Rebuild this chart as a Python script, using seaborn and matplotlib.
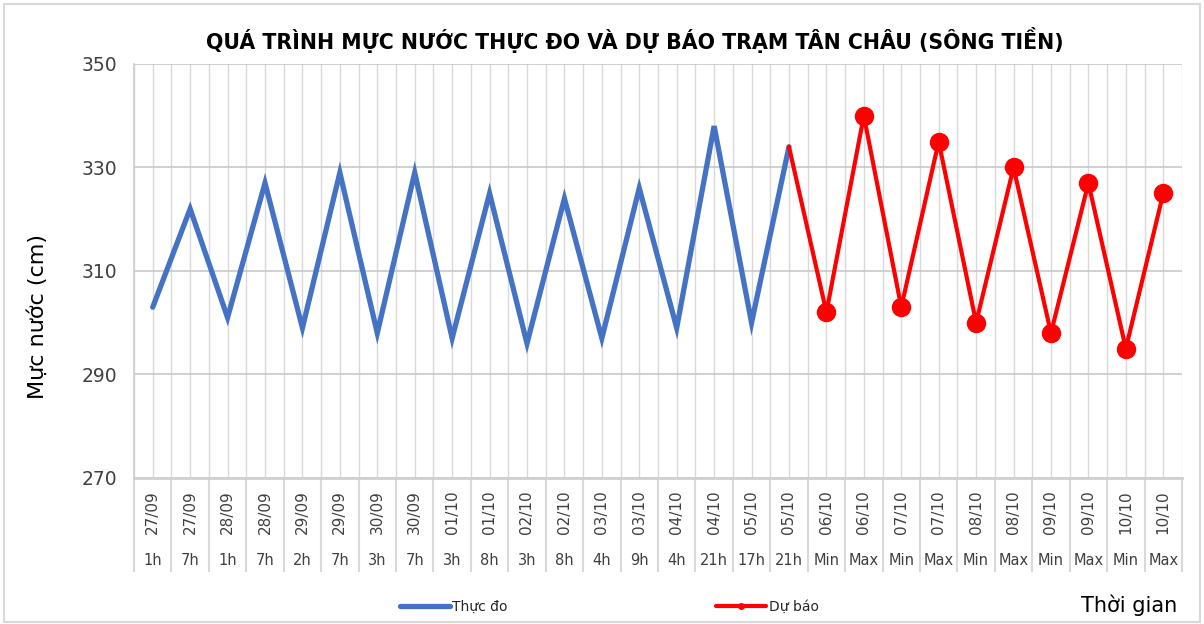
import numpy as np
import pandas as pd
import matplotlib
matplotlib.use("Agg")
import matplotlib.pyplot as plt
from matplotlib.lines import Line2D
from matplotlib.patches import Rectangle
import seaborn as sns

# Category labels (date + hour)
dates = ["27/09", "27/09", "28/09", "28/09", "29/09", "29/09", "30/09", "30/09",
         "01/10", "01/10", "02/10", "02/10", "03/10", "03/10", "04/10", "04/10",
         "05/10", "05/10", "06/10", "06/10", "07/10", "07/10", "08/10", "08/10",
         "09/10", "09/10", "10/10", "10/10"]
hours = ["1h", "7h", "1h", "7h", "2h", "7h", "3h", "7h", "3h", "8h", "3h", "8h",
         "4h", "9h", "4h", "21h", "17h", "21h", "Min", "Max", "Min", "Max",
         "Min", "Max", "Min", "Max", "Min", "Max"]

# Observed water level (cm), first 18 categories
observed = [303, 322, 301, 327, 299, 329, 298, 329, 297, 325, 296, 324,
            297, 326, 299, 338, 300, 334]
# Forecast, starts at the last observed point
forecast = [334, 302, 340, 303, 335, 300, 330, 298, 327, 295, 325]

obs_df = pd.DataFrame({"x": np.arange(len(observed)), "level": observed})
fc_start = len(observed) - 1
fc_df = pd.DataFrame({"x": np.arange(fc_start, fc_start + len(forecast)), "level": forecast})

sns.set_theme(style="white")
plt.rcParams["font.family"] = ["DejaVu Sans"]

blue = "#4472C4"
red = "#FF0000"
grey_txt = "#404040"

fig = plt.figure(figsize=(12.04, 6.24), dpi=100)
ax = fig.add_axes([0.1113, 0.234, 0.8704, 0.6635])

sns.lineplot(data=obs_df, x="x", y="level", ax=ax, color=blue, linewidth=3.8,
             solid_joinstyle="miter", legend=False)
sns.lineplot(data=fc_df, x="x", y="level", ax=ax, color=red, linewidth=3.0,
             marker="o", markersize=14, markeredgewidth=0,
             markevery=list(range(1, len(forecast))), legend=False)

n = len(dates)
ax.set_xlim(-0.5, n - 0.5)
ax.set_ylim(270, 350)
ax.set_yticks([270, 290, 310, 330, 350])
ax.tick_params(axis="y", labelsize=13.5, labelcolor=grey_txt, length=0, pad=12)

# vertical gridlines at centers and boundaries
ax.set_xticks(np.arange(n))
ax.set_xticks(np.arange(n + 1) - 0.5, minor=True)
ax.set_xticklabels([])
ax.tick_params(axis="x", which="both", length=0)
ax.grid(True, axis="x", which="both", color="#d9d9d9", linewidth=1)
ax.grid(True, axis="y", which="major", color="#c8c8c8", linewidth=1.2)
ax.set_axisbelow(True)

for side in ["top", "right"]:
    ax.spines[side].set_visible(False)
ax.spines["left"].set_color("#d0d0d0")
ax.spines["bottom"].set_color("#d0d0d0")
ax.spines["bottom"].set_linewidth(2)

ax.set_xlabel("")
ax.set_ylabel("Mực nước (cm)", fontsize=16, color="#000000")
ax.yaxis.set_label_coords(-0.082, 0.39)

# multi-level category labels
trans = ax.get_xaxis_transform()
ax.vlines(np.arange(n + 1) - 0.5, -0.227, 0, transform=trans, colors="#d9d9d9",
          linewidth=1.5, clip_on=False)
for i in range(n):
    ax.text(i, -0.083, dates[i], transform=trans, rotation=90, ha="center",
            va="center", fontsize=11, color=grey_txt)
    ax.text(i, -0.199, hours[i], transform=trans, ha="center", va="center",
            fontsize=10.5, color=grey_txt)

fig.text(0.527, 0.936, "QUÁ TRÌNH MỰC NƯỚC THỰC ĐO VÀ DỰ BÁO TRẠM TÂN CHÂU (SÔNG TIỀN)",
         ha="center", va="center", fontsize=14.8, fontweight="bold", color="#000000")

fig.text(0.978, 0.03, "Thời gian", ha="right", va="center", fontsize=15, color="#000000")

handles = [Line2D([], [], color=blue, linewidth=3.8),
           Line2D([], [], color=red, linewidth=3.0, marker="o", markersize=4)]
fig.legend(handles, ["Thực đo", "Dự báo"], loc="center", ncol=2,
           bbox_to_anchor=(0.506, 0.027), frameon=False, fontsize=10,
           handlelength=3.6, handletextpad=0.2, columnspacing=15)

fig.patches.append(Rectangle((0.003, 0.004), 0.994, 0.99, transform=fig.transFigure,
                             fill=False, edgecolor="#d9d9d9", linewidth=1.5))

fig.savefig("out.png", dpi=100)
